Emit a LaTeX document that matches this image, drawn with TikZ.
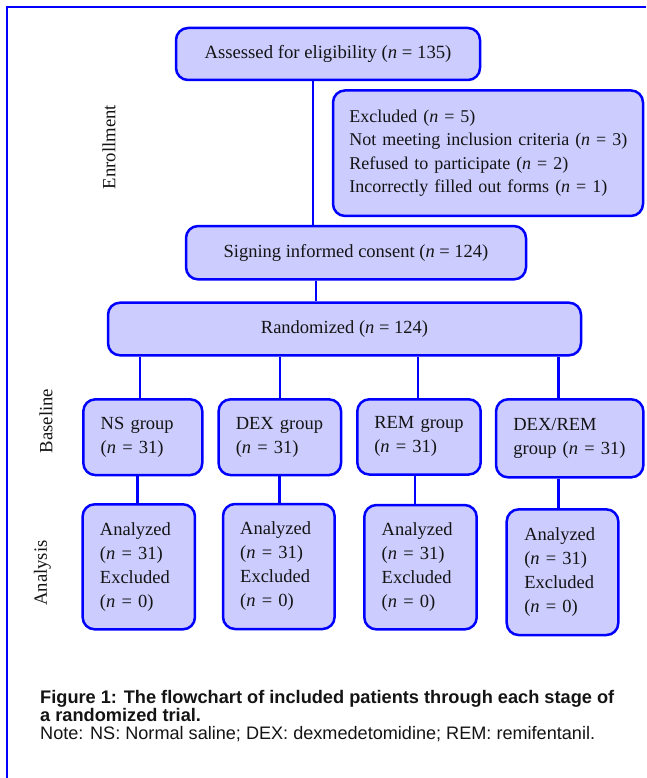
\documentclass[tikz,border=0pt]{standalone}
\usepackage{fontspec}
\setmainfont{Liberation Serif}
\newfontfamily\capfont{Liberation Sans}
\definecolor{boxfill}{RGB}{204,204,255}
\definecolor{boxline}{RGB}{0,0,255}
\definecolor{txt}{RGB}{20,20,20}
\newcommand{\myline}[1]{\mbox{#1}}
\begin{document}
\begin{tikzpicture}[x=1pt,y=-1pt,
  box/.style={draw=boxline, fill=boxfill, line width=2.5pt, rounded corners=12pt,
    inner xsep=0pt, inner ysep=0pt, text=txt,
    font=\fontsize{18.5}{24}\selectfont},
  lbox/.style={box, align=left},
  conn/.style={draw=boxline, line width=2.5pt},
  side/.style={rotate=90, text=txt, font=\fontsize{18.7}{22}\selectfont, inner sep=0pt},
  captext/.style={anchor=base west, inner sep=0pt, text=txt}
]
\useasboundingbox (0,0) rectangle (646,778);
\fill[white] (0,0) rectangle (646,778);
\draw[boxline, line width=2pt] (7,778) -- (7,7) -- (646,7);

% top
\node[box, minimum width=304pt, minimum height=52pt, font=\fontsize{18.7}{24}\selectfont] (assess) at (328,54)
  {Assessed for eligibility (\textit{n} = 135)};
\node[lbox, minimum width=310pt, minimum height=125.5pt, text width=277.4pt,
  font=\fontsize{18}{23.1}\selectfont] (excl) at (488,153.2)
  {\myline{Excluded (\textit{n} = 5)}\\\myline{Not meeting inclusion criteria (\textit{n} = 3)}\\\myline{Refused to participate (\textit{n} = 2)}\\\myline{Incorrectly filled out forms (\textit{n} = 1)}};
\node[box, minimum width=340pt, minimum height=53.3pt] (sign) at (356,252.7)
  {Signing informed consent (\textit{n} = 124)};
\node[box, minimum width=473pt, minimum height=52.6pt] (rand) at (344.5,329)
  {Randomized (\textit{n} = 124)};

% groups
\node[lbox, minimum width=119pt, minimum height=75.7pt, text width=84.2pt] (ns) at (142.8,437.2)
  {\myline{NS group}\\\myline{(\textit{n} = 31)}};
\node[lbox, minimum width=122.5pt, minimum height=75.7pt, text width=88.1pt] (dex) at (279.8,437.2)
  {\myline{DEX group}\\\myline{(\textit{n} = 31)}};
\node[lbox, minimum width=123.4pt, minimum height=75.2pt, text width=89.4pt] (rem) at (419,436.9)
  {\myline{REM group}\\\myline{(\textit{n} = 31)}};
\node[lbox, minimum width=147.3pt, minimum height=78pt, text width=112.7pt] (dr) at (569.7,438.3)
  {\myline{DEX/REM}\\\myline{group (\textit{n} = 31)}};

% analysis
\node[lbox, minimum width=112.3pt, minimum height=125pt, text width=77.7pt] (nsA) at (138.8,566.8)
  {\myline{Analyzed}\\\myline{(\textit{n} = 31)}\\\myline{Excluded}\\\myline{(\textit{n} = 0)}};
\node[lbox, minimum width=111.6pt, minimum height=125pt, text width=77.2pt] (dexA) at (278.8,566.5)
  {\myline{Analyzed}\\\myline{(\textit{n} = 31)}\\\myline{Excluded}\\\myline{(\textit{n} = 0)}};
\node[lbox, minimum width=112.4pt, minimum height=124.3pt, text width=77.6pt] (remA) at (420.5,567.2)
  {\myline{Analyzed}\\\myline{(\textit{n} = 31)}\\\myline{Excluded}\\\myline{(\textit{n} = 0)}};
\node[lbox, minimum width=111.6pt, minimum height=125.7pt, text width=76.4pt] (drA) at (562.5,572.2)
  {\myline{Analyzed}\\\myline{(\textit{n} = 31)}\\\myline{Excluded}\\\myline{(\textit{n} = 0)}};

% connector columns
\coordinate (c0) at (313,0);
\coordinate (c1) at (316,0);
\coordinate (g1) at (140,0);
\coordinate (g2) at (280,0);
\coordinate (g3) at (418,0);
\coordinate (g4) at (558.5,0);
\coordinate (a1) at (137.3,0);
\coordinate (a2) at (279.3,0);
\coordinate (a3) at (415,0);
\coordinate (a4) at (558.7,0);

\path[conn] (assess.south -| c0) -- (sign.north -| c0);
\path[conn] (sign.south -| c1) -- (rand.north -| c1);
\path[conn] (rand.south -| g1) -- (ns.north -| g1);
\path[conn] (rand.south -| g2) -- (dex.north -| g2);
\path[conn] (rand.south -| g3) -- (rem.north -| g3);
\path[conn] (rand.south -| g4) -- (dr.north -| g4);
\path[conn] (ns.south -| a1) -- (nsA.north -| a1);
\path[conn] (dex.south -| a2) -- (dexA.north -| a2);
\path[conn] (rem.south -| a3) -- (remA.north -| a3);
\path[conn] (dr.south -| a4) -- (drA.north -| a4);

% side labels
\node[side] (enr) at (109,147) {Enrollment};
\node[side] (base) at (46,421) {Baseline};
\node[side] (anal) at (42.5,573) {Analysis};

% caption
\node[captext, font=\capfont\bfseries\fontsize{18.2}{18.2}\selectfont] (cap1) at (40,703)
  {Figure 1: The flowchart of included patients through each stage of};
\node[captext, font=\capfont\bfseries\fontsize{18.2}{18.2}\selectfont] (cap2) at (40,721)
  {a randomized trial.};
\node[captext, font=\capfont\fontsize{18.1}{18.1}\selectfont] (cap3) at (40,739.5)
  {Note: NS: Normal saline; DEX: dexmedetomidine; REM: remifentanil.};
\end{tikzpicture}
\end{document}
